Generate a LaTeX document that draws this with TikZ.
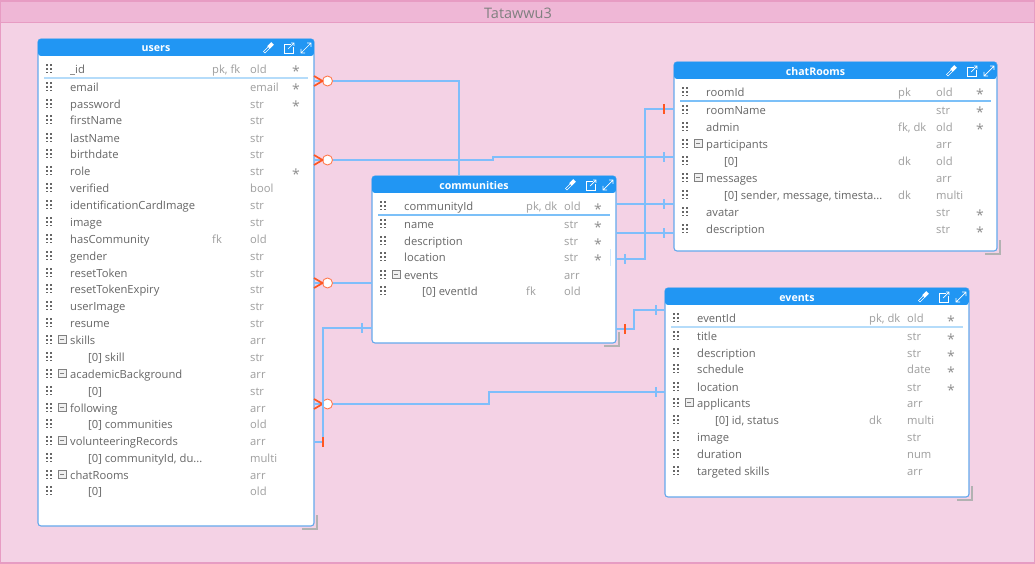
\documentclass[tikz,border=0pt]{standalone}
\usepackage{fontspec}
\setmainfont{Open Sans}
\usetikzlibrary{positioning}

\definecolor{modelbg}{HTML}{F4D2E5}
\definecolor{modelband}{HTML}{EFB7D6}
\definecolor{modelline}{HTML}{E79CC3}
\definecolor{headblue}{HTML}{2196F3}
\definecolor{edgeblue}{HTML}{64A8EC}
\definecolor{relblue}{HTML}{7FBEFB}
\definecolor{sepblue}{HTML}{B5DCFA}
\definecolor{sepdark}{HTML}{7CC0F8}
\definecolor{crowred}{HTML}{FF5722}
\definecolor{namegray}{HTML}{666666}
\definecolor{metagray}{HTML}{9E9E9E}

\tikzset{
	tablebody/.style = {draw=edgeblue, fill=white, line width=1.1pt, rounded corners=3pt, inner sep=0pt, outer sep=0pt, anchor=north west},
	tabletitle/.style = {text=white, font=\fontsize{10.6}{13}\selectfont\bfseries, inner sep=0pt},
	fieldname/.style = {text=namegray, font=\fontsize{11.2}{13}\selectfont, inner sep=0pt, anchor=base west},
	fieldmeta/.style = {text=metagray, font=\fontsize{11.2}{13}\selectfont, inner sep=0pt, anchor=base west},
	fieldstar/.style = {text=metagray!90!black, font=\fontsize{14}{15}\selectfont, inner sep=0pt, anchor=base west},
	rel/.style = {draw=relblue, line width=1.9pt},
	crow/.style = {draw=crowred, line width=1.7pt},
	optcircle/.style = {circle, draw=crowred!80, fill=white, line width=0.9pt, minimum size=10pt, inner sep=0pt, outer sep=0pt},
	barblue/.style = {fill=relblue, minimum width=1.8pt, minimum height=10pt, inner sep=0pt},
	barred/.style = {fill=crowred, minimum width=1.8pt, minimum height=10pt, inner sep=0pt},
	grip/.pic = {
		\foreach \dx in {-2.6,1.0}
			\foreach \dy in {-4.6,-1.0,2.6}
				\fill[namegray] (\dx,\dy) rectangle +(1.8,1.8);
	},
}

% rows: y / name / key / type / required / level
\newcommand{\erdtable}[8]{
	\node[tablebody, minimum width=#4pt-#2pt, minimum height=#5pt-#3pt] (#1) at (#2,#3) {};
	\begin{scope}
		\clip[rounded corners=3pt] (#2,#3) rectangle (#4,#3+17);
		\fill[headblue] (#2,#3) rectangle (#4,#3+17);
	\end{scope}
	\node[tabletitle] (#1-title) at ({(#2+#4-40)/2},#3+10) {#1};
	% header icons
	\draw[white, line width=2.6pt] (#4-50,#3+13.5) -- (#4-45,#3+8.5);
	\draw[headblue, line width=1.1pt] (#4-49.5,#3+13) -- (#4-45,#3+8.5);
	\draw[white, line width=3.6pt] (#4-45.5,#3+8.5) -- (#4-41.5,#3+4.5);
	\draw[white, line width=0.7pt] (#4-23,#3+5) -- (#4-30,#3+5) -- (#4-30,#3+14) -- (#4-21,#3+14) -- (#4-21,#3+8);
	\draw[white, line width=0.7pt] (#4-26,#3+10) -- (#4-20,#3+4) (#4-23,#3+4) -- (#4-20,#3+4) -- (#4-20,#3+7);
	\draw[white, line width=0.7pt] (#4-13,#3+14) -- (#4-3,#3+4) (#4-7,#3+4) -- (#4-3,#3+4) -- (#4-3,#3+8) (#4-13,#3+10) -- (#4-13,#3+14) -- (#4-9,#3+14);
	% resize corner
	\draw[gray!60, line width=1.5pt] (#4+3,#5-11) -- (#4+3,#5+3) -- (#4-12,#5+3);
	\foreach \rowy/\fname/\fkey/\ftype/\freq/\flevel [count=\i] in {#8} {
		\pic at (#2+11,\rowy) {grip};
		\ifnum\flevel=1
			\draw[gray, fill=black!6, line width=0.6pt] (#2+20,\rowy-4.5) rectangle (#2+28,\rowy+3.5);
			\draw[gray, line width=0.6pt] (#2+22,\rowy-0.5) -- (#2+26,\rowy-0.5);
		\fi
		\ifnum\flevel=2
			\node[fieldname] (#1-\i) at (#2+50,\rowy+4.4) {\fname};
		\else
			\node[fieldname] (#1-\i) at (#2+32,\rowy+4.4) {\fname};
		\fi
		\ifx\fkey\empty\else
			\node[fieldmeta] (#1-\i-key) at (#6-38,\rowy+4.4) {\fkey};
		\fi
		\node[fieldmeta] (#1-\i-type) at (#6,\rowy+4.4) {\ftype};
		\ifx\freq\empty\else
			\node[fieldstar] (#1-\i-req) at (#7,\rowy+8) {\freq};
		\fi
	}
}

\begin{document}
\begin{tikzpicture}[x=1pt, y=-1pt]
	\useasboundingbox (0,0) rectangle (1035,564);
	
	% model frame
	\fill[modelbg] (0,0) rectangle (1035,564);
	\fill[modelband] (0,0) rectangle (1035,23);
	\draw[modelline, line width=1.2pt] (0.7,1) rectangle (1034.3,563);
	\draw[modelline, line width=1pt] (0.7,23) -- (1034.3,23);
	\node[text=gray, font=\fontsize{14.5}{16}\selectfont] (modeltitle) at (518,13) {Tatawwu3};
	
	\erdtable{users}{38}{39}{314}{526}{250}{292}{
		69/\_id/{pk, fk}/old/*/0,
		87/email//email/*/0,
		104/password//str/*/0,
		120/firstName//str//0,
		138/lastName//str//0,
		154/birthdate//str//0,
		171/role//str/*/0,
		188/verified//bool//0,
		205/identificationCardImage//str//0,
		222/image//str//0,
		239/hasCommunity/fk/old//0,
		256/gender//str//0,
		273/resetToken//str//0,
		289/resetTokenExpiry//str//0,
		306/userImage//str//0,
		323/resume//str//0,
		340/skills//arr//1,
		357/{[0] skill}//str//2,
		374/academicBackground//arr//1,
		391/{[0]}//str//2,
		408/following//arr//1,
		424/{[0] communities}//old//2,
		441/volunteeringRecords//arr//1,
		458/{[0] communityId, du...}//multi//2,
		475/chatRooms//arr//1,
		491/{[0]}//old//2}
	\draw[sepblue, line width=1.2pt] (44,78) -- (308,78);
	
	\erdtable{communities}{372}{176}{616}{343}{564}{594}{
		206/communityId/{pk, dk}/old/*/0,
		224/name//str/*/0,
		241/description//str/*/0,
		257/location//str/*/0,
		275/events//arr//1,
		291/{[0] eventId}/fk/old//2}
	\draw[sepdark, line width=1.1pt] (378,215) -- (610,215);
	\draw[sepblue!60, line width=0.8pt] (610.5,249) -- (610.5,266);
	
	\erdtable{chatRooms}{674}{62}{997}{251}{936}{976}{
		92/roomId/pk/old/*/0,
		110/roomName//str/*/0,
		127/admin/{fk, dk}/old/*/0,
		144/participants//arr//1,
		161/{[0]}/dk/old//2,
		178/messages//arr//1,
		195/{[0] sender, message, timesta...}/dk/multi//2,
		212/avatar//str/*/0,
		229/description//str/*/0}
	\draw[sepdark, line width=1.1pt] (680,101) -- (991,101);
	
	\erdtable{events}{665}{288}{969}{497}{907}{947}{
		318/eventId/{pk, dk}/old/*/0,
		336/title//str/*/0,
		353/description//str/*/0,
		369/schedule//date/*/0,
		387/location//str/*/0,
		403/applicants//arr//1,
		420/{[0] id, status}/dk/multi//2,
		437/image//str//0,
		454/duration//num//0,
		471/{targeted skills}//arr//0}
	\draw[sepblue, line width=1.2pt] (671,327) -- (963,327);
	
	% optional ends on users
	\foreach \cname/\cy in {circA/81, circB/160, circC/283, circD/404}{
		\node[optcircle] (\cname) at (327.5,\cy) {};
		\draw[rel] (users.east |- \cname) -- (\cname.west);
		\draw[crow] ([xshift=-8.5pt,yshift=5pt]\cname.west) -- (\cname.west) -- ([xshift=-8.5pt,yshift=-5pt]\cname.west);
	}
	
	% relations
	\draw[rel] (circA.east) -| (communities.north -| 459,0);
	\draw[rel] (circB.east) -- (493,160) -- (493,157) -- (chatRooms.west |- 0,157);
	\draw[rel] (circC.east) -- (communities.west |- circC);
	\draw[rel] (circD.east) -- (489,404) -- (489,392) -- (events.west |- 0,392);
	\draw[rel] (users.east |- 0,442) -- (323,442) -- (323,328) -- (communities.west |- 0,328);
	\draw[rel] (communities.east |- 0,329) -- (634,329) -- (634,310) -- (events.west |- 0,310);
	\draw[rel] (communities.east |- 0,204) -- (chatRooms.west |- 0,204);
	\draw[rel] (communities.east |- 0,233) -- (chatRooms.west |- 0,233);
	\draw[rel] (communities.east |- 0,259) -- (645,259) -- (645,109) -- (chatRooms.west |- 0,109);
	
	% cardinality bars
	\foreach \bname/\bx/\by in {barA/664/157, barB/656/392, barC/362/328, barD/656/310, barE/664/204, barF/664/233, barG/625/259}
		\node[barblue] (\bname) at (\bx,\by) {};
	\foreach \bname/\bx/\by in {barH/323/442, barI/625/329, barJ/664/109}
		\node[barred] (\bname) at (\bx,\by) {};
\end{tikzpicture}
\end{document}
